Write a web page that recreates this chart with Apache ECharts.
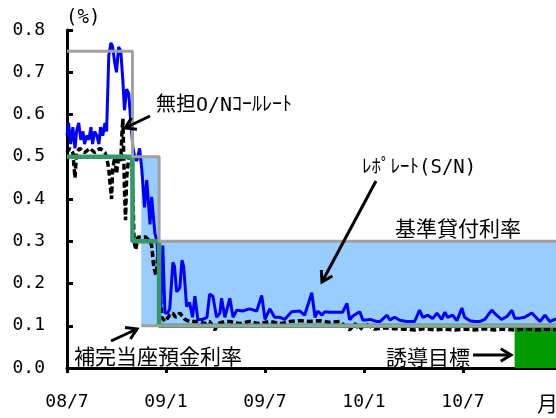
<!DOCTYPE html>
<html>
<head>
<meta charset="utf-8">
<script src="https://cdn.jsdelivr.net/npm/echarts@6/dist/echarts.min.js"></script>
<style>
  html, body { margin: 0; padding: 0; background: #fff; }
  #chart { width: 556px; height: 418px; }
</style>
</head>
<body>
<div id="chart"></div>
<script>
// Short-term money market rates in Japan, Jul 2008 - Dec 2010 (%)

const axisStart = '2008-07-01';
const axisEnd = '2011-01-01';
const xTickLabels = ['08/7', '09/1', '09/7', '10/1', '10/7'];
const yTickLabels = ['0.0', '0.1', '0.2', '0.3', '0.4', '0.5', '0.6', '0.7', '0.8'];

// Repo rate (S/N)
const repoDates = [
  '2008-07-01','2008-07-04','2008-07-08','2008-07-12','2008-07-16','2008-07-19','2008-07-23','2008-07-27',
  '2008-07-31','2008-08-03','2008-08-07','2008-08-11','2008-08-15','2008-08-18','2008-08-22','2008-08-26',
  '2008-08-30','2008-09-02','2008-09-06','2008-09-10','2008-09-13','2008-09-17','2008-09-21','2008-09-24',
  '2008-09-28','2008-10-01','2008-10-05','2008-10-09','2008-10-13','2008-10-16','2008-10-20','2008-10-24',
  '2008-10-28','2008-11-01','2008-11-04','2008-11-08','2008-11-13','2008-11-17','2008-11-22','2008-11-26',
  '2008-12-02','2008-12-05','2008-12-11','2008-12-15','2008-12-18','2008-12-22','2008-12-26','2008-12-30',
  '2009-01-04','2009-01-08','2009-01-14','2009-01-17','2009-01-21','2009-01-27','2009-01-31','2009-02-03',
  '2009-02-08','2009-02-13','2009-02-18','2009-02-22','2009-02-27','2009-03-08','2009-03-16','2009-03-21',
  '2009-03-27','2009-04-03','2009-04-09','2009-04-12','2009-04-18','2009-04-27','2009-05-03','2009-05-10',
  '2009-05-21','2009-06-03','2009-06-16','2009-06-25','2009-07-01','2009-07-10','2009-07-19','2009-07-29',
  '2009-08-07','2009-08-20','2009-09-04','2009-09-13','2009-09-26','2009-10-02','2009-10-07','2009-10-15',
  '2009-10-20','2009-10-30','2009-11-22','2009-11-30','2009-12-05','2009-12-11','2009-12-24','2009-12-30',
  '2010-01-12','2010-01-25','2010-01-31','2010-02-12','2010-02-17','2010-02-25','2010-03-06','2010-03-19',
  '2010-04-03','2010-04-12','2010-04-18','2010-04-27','2010-05-06','2010-05-14','2010-05-23','2010-05-29',
  '2010-06-03','2010-06-12','2010-06-20','2010-06-29','2010-07-04','2010-07-14','2010-07-23','2010-08-01',
  '2010-08-11','2010-08-24','2010-09-02','2010-09-11','2010-09-21','2010-09-30','2010-10-05','2010-10-15',
  '2010-10-24','2010-11-06','2010-11-15','2010-11-21','2010-11-30','2010-12-09','2010-12-18','2010-12-31'
];
const repoValues = [
  0.55, 0.58, 0.53, 0.57, 0.52, 0.56, 0.58, 0.54,
  0.56, 0.53, 0.55, 0.54, 0.57, 0.53, 0.56, 0.55,
  0.53, 0.57, 0.55, 0.58, 0.56, 0.74, 0.77, 0.76,
  0.72, 0.70, 0.76, 0.75, 0.68, 0.61, 0.66, 0.65,
  0.58, 0.52, 0.50, 0.49, 0.52, 0.47, 0.38, 0.445,
  0.34, 0.405, 0.32, 0.30, 0.30, 0.14, 0.29, 0.13,
  0.13, 0.14, 0.25, 0.24, 0.18, 0.19, 0.255, 0.24,
  0.145, 0.155, 0.12, 0.17, 0.115, 0.115, 0.12, 0.175,
  0.17, 0.12, 0.13, 0.165, 0.12, 0.165, 0.12, 0.137,
  0.135, 0.14, 0.135, 0.172, 0.115, 0.14, 0.12, 0.12,
  0.115, 0.133, 0.135, 0.125, 0.178, 0.12, 0.135, 0.125,
  0.133, 0.132, 0.132, 0.153, 0.114, 0.123, 0.133, 0.113,
  0.115, 0.11, 0.11, 0.125, 0.114, 0.12, 0.113, 0.11,
  0.11, 0.137, 0.12, 0.125, 0.117, 0.13, 0.115, 0.132,
  0.12, 0.125, 0.112, 0.142, 0.12, 0.112, 0.11, 0.11,
  0.115, 0.137, 0.125, 0.115, 0.122, 0.137, 0.118, 0.118,
  0.12, 0.13, 0.118, 0.11, 0.125, 0.11, 0.115, 0.118
];

// Uncollateralized overnight call rate
const callDates = [
  '2008-07-01','2008-07-06','2008-07-12','2008-07-16','2008-07-19','2008-07-25','2008-08-03','2008-08-13',
  '2008-08-22','2008-09-01','2008-09-10','2008-09-13','2008-09-17','2008-09-19','2008-09-22','2008-09-24',
  '2008-09-28','2008-10-01','2008-10-05','2008-10-09','2008-10-11','2008-10-13','2008-10-15','2008-10-16',
  '2008-10-18','2008-10-20','2008-10-24','2008-10-28','2008-10-30','2008-11-03','2008-11-06','2008-11-10',
  '2008-11-17','2008-11-24','2008-12-02','2008-12-05','2008-12-09','2008-12-13','2008-12-17','2008-12-20',
  '2008-12-24','2008-12-30','2009-01-08','2009-01-14','2009-01-19','2009-01-27','2009-02-05','2009-02-13',
  '2009-02-22','2009-03-03','2009-03-12','2009-03-21','2009-03-31','2009-04-05','2009-04-18','2009-04-27',
  '2009-05-16','2009-06-03','2009-06-21','2009-07-10','2009-07-29','2009-08-17','2009-09-04','2009-09-22',
  '2009-10-11','2009-10-30','2009-11-17','2009-12-05','2009-12-15','2009-12-24','2010-01-03','2010-01-21',
  '2010-02-08','2010-02-25','2010-03-16','2010-04-03','2010-04-21','2010-05-10','2010-05-29','2010-06-16',
  '2010-07-04','2010-07-23','2010-08-11','2010-08-30','2010-09-17','2010-10-05','2010-10-24','2010-11-12',
  '2010-11-30','2010-12-31'
];
const callValues = [
  0.51, 0.52, 0.51, 0.45, 0.51, 0.52, 0.51, 0.52,
  0.51, 0.52, 0.51, 0.50, 0.47, 0.44, 0.40, 0.47,
  0.50, 0.46, 0.50, 0.49, 0.55, 0.59, 0.48, 0.42,
  0.35, 0.45, 0.50, 0.50, 0.49, 0.30, 0.28, 0.31,
  0.31, 0.31, 0.30, 0.29, 0.24, 0.22, 0.27, 0.20,
  0.12, 0.11, 0.125, 0.13, 0.12, 0.13, 0.115, 0.11,
  0.11, 0.11, 0.105, 0.11, 0.09, 0.105, 0.11, 0.11,
  0.105, 0.11, 0.105, 0.11, 0.105, 0.11, 0.112, 0.11,
  0.112, 0.108, 0.11, 0.09, 0.105, 0.09, 0.105, 0.092,
  0.095, 0.093, 0.092, 0.09, 0.093, 0.09, 0.092, 0.09,
  0.092, 0.09, 0.093, 0.09, 0.092, 0.09, 0.093, 0.09,
  0.092, 0.09
];

// Basic loan rate (step changes)
const loanRateDates = ['2008-07-01', '2008-10-31', '2008-12-19', '2011-01-01'];
const loanRateValues = [0.75, 0.5, 0.3, 0.3];

// Policy target for the call rate (step changes)
const targetDates = ['2008-07-01', '2008-10-31', '2008-12-19', '2011-01-01'];
const targetValues = [0.5, 0.3, 0.1, 0.1];

// Interest on excess reserves (complementary deposit facility)
const depositDates = ['2008-11-16', '2011-01-01'];
const depositValues = [0.1, 0.1];

// Target range 0-0.1% from Oct 2010
const zeroRangeDates = ['2010-10-05', '2011-01-01'];
const zeroRangeValues = [0, 0.1];

// --- helpers -------------------------------------------------------------

// fractional months elapsed since the start of the axis
function toMonths(s) {
  const [y, m, d] = s.split('-').map(Number);
  const [y0, m0] = axisStart.split('-').map(Number);
  const dim = new Date(y, m, 0).getDate();
  return (y - y0) * 12 + (m - m0) + (d - 1) / dim;
}
function pairs(dates, values) {
  return dates.map((d, i) => [toMonths(d), values[i]]);
}

// corridor between deposit rate and loan rate, one rectangle per loan-rate step
const corridorAreas = [];
const corridorStart = toMonths(depositDates[0]);
for (let i = 0; i < loanRateDates.length - 1; i++) {
  const a = Math.max(toMonths(loanRateDates[i]), corridorStart);
  const b = toMonths(loanRateDates[i + 1]);
  if (b <= a) continue;
  corridorAreas.push([
    { xAxis: a, yAxis: depositValues[0], itemStyle: { color: '#99ccff' } },
    { xAxis: b, yAxis: loanRateValues[i] }
  ]);
}
const zeroRangeArea = [
  { xAxis: toMonths(zeroRangeDates[0]), yAxis: zeroRangeValues[0], itemStyle: { color: '#009900' } },
  { xAxis: toMonths(zeroRangeDates[1]), yAxis: zeroRangeValues[1] }
];

function arrow(x1, y1, x2, y2) {
  const a = Math.atan2(y2 - y1, x2 - x1), L = 12, s = 0.55;
  return [
    { type: 'line', z: 50, shape: { x1, y1, x2, y2 }, style: { stroke: '#000', lineWidth: 3 } },
    { type: 'polyline', z: 50,
      shape: { points: [
        [x2 - L * Math.cos(a - s), y2 - L * Math.sin(a - s)],
        [x2, y2],
        [x2 - L * Math.cos(a + s), y2 - L * Math.sin(a + s)]
      ] },
      style: { stroke: '#000', lineWidth: 3, fill: null } }
  ];
}

const monoFont = "'DejaVu Sans Mono', 'Noto Sans CJK JP', monospace";
const jpFont = "'Noto Sans CJK JP', sans-serif";

function label(text, x, y, size, family) {
  return {
    type: 'text', z: 50, x, y,
    style: { text, fill: '#000', font: size + 'px ' + (family || jpFont), textVerticalAlign: 'middle' }
  };
}

const chart = echarts.init(document.getElementById('chart'), null, { renderer: 'canvas' });

chart.setOption({
  animation: false,
  backgroundColor: '#fff',
  grid: { left: 67, top: 30, width: 495, height: 338, containLabel: false, outerBoundsMode: 'none' },
  xAxis: {
    type: 'value',
    min: 0, max: toMonths(axisEnd), interval: 6,
    axisLine: { lineStyle: { color: '#000', width: 3 } },
    axisTick: { show: true, inside: false, length: 5, lineStyle: { color: '#000', width: 3 } },
    axisLabel: {
      color: '#000', fontFamily: monoFont, fontSize: 18, margin: 25,
      formatter: v => (Math.abs(v / 6 - Math.round(v / 6)) < 1e-6 ? (xTickLabels[Math.round(v / 6)] || '') : '')
    },
    splitLine: { show: false }
  },
  yAxis: {
    type: 'value',
    min: 0, max: 0.8, interval: 0.1,
    axisLine: { show: true, lineStyle: { color: '#000', width: 3 } },
    axisTick: { show: true, inside: true, length: 6, lineStyle: { color: '#000', width: 3 } },
    axisLabel: {
      color: '#000', fontFamily: monoFont, fontSize: 18, margin: 22,
      formatter: v => yTickLabels[Math.round(v * 10)] || ''
    },
    splitLine: { show: false }
  },
  series: [
    {
      name: 'bands', type: 'line', data: [], z: 1, silent: true,
      markArea: { silent: true, data: corridorAreas.concat([zeroRangeArea]) }
    },
    {
      name: '無担O/Nｺｰﾙﾚｰﾄ', type: 'line', z: 2, showSymbol: false,
      data: pairs(callDates, callValues),
      lineStyle: { color: '#000', width: 3.5, type: [6, 3] }
    },
    {
      name: 'ﾚﾎﾟﾚｰﾄ(S/N)', type: 'line', z: 3, showSymbol: false,
      data: pairs(repoDates, repoValues),
      lineStyle: { color: '#0000ff', width: 3 }
    },
    {
      name: '誘導目標', type: 'line', z: 4, showSymbol: false, step: 'end',
      data: pairs(targetDates, targetValues),
      lineStyle: { color: '#339966', width: 4.5 }
    },
    {
      name: '基準貸付利率', type: 'line', z: 5, showSymbol: false, step: 'end',
      data: pairs(loanRateDates, loanRateValues),
      lineStyle: { color: '#a0a0a0', width: 3 }
    },
    {
      name: '補完当座預金利率', type: 'line', z: 5, showSymbol: false,
      data: pairs(depositDates, depositValues),
      lineStyle: { color: '#a0a0a0', width: 3 }
    }
  ],
  graphic: [
    label('(%)', 66, 18, 19, monoFont),
    label('無担O/Nｺｰﾙﾚｰﾄ', 156, 106, 20, monoFont),
    label('ﾚﾎﾟﾚｰﾄ(S/N)', 362, 168, 19, monoFont),
    label('基準貸付利率', 395, 228, 21),
    label('補完当座預金利率', 74, 356, 21),
    label('誘導目標', 386, 357, 21),
    label('月', 537, 403, 21)
  ]
    .concat(arrow(150, 116, 125, 128))
    .concat(arrow(376, 181, 322, 282))
    .concat(arrow(111, 341, 137, 329))
    .concat(arrow(473, 355, 511, 355))
});
</script>
</body>
</html>
